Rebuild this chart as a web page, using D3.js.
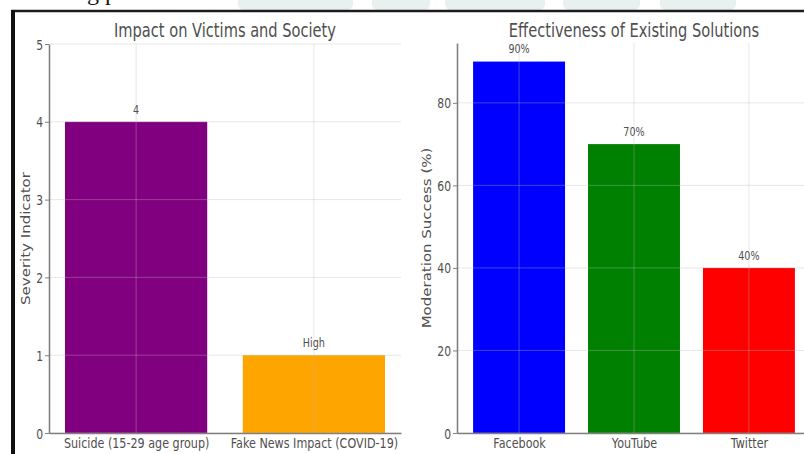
<!DOCTYPE html>
<html><head><meta charset="utf-8">
<script src="https://cdn.jsdelivr.net/npm/d3@7"></script>
<style>
body{margin:0;background:#fff}
svg{display:block}
text{font-family:"DejaVu Sans",sans-serif}
</style>
</head><body>
<svg id="c" width="804" height="454"></svg>
<script>
// ---- data ----
const leftTitle = "Impact on Victims and Society";
const leftYLabel = "Severity Indicator";
const leftCategories = ["Suicide (15-29 age group)", "Fake News Impact (COVID-19)"];
const leftValues = [4, 1];
const leftBarLabels = ["4", "High"];
const leftTicks = [0, 1, 2, 3, 4, 5];

const rightTitle = "Effectiveness of Existing Solutions";
const rightYLabel = "Moderation Success (%)";
const rightCategories = ["Facebook", "YouTube", "Twitter"];
const rightValues = [90, 70, 40];
const rightBarLabels = ["90%", "70%", "40%"];
const rightTicks = [0, 20, 40, 60, 80];

// ---- styles ----
const leftColors = ["#800080", "#FFA500"];
const rightColors = ["#0000FF", "#008000", "#FF0000"];
const SX = 0.77;           // horizontal squeeze of the screenshot
const TXT = "#4f4f4f";
const AX = "#808080";

const svg = d3.select("#c");
svg.append("rect").attr("width", 804).attr("height", 454).attr("fill", "#fff");

// faint watermark fragments above the figure frame
const wm = svg.append("g").attr("fill", "#d6e6e2").attr("opacity", 0.55);
[[238, 115], [372, 58], [445, 100], [563, 77], [660, 76]].forEach(([x, w]) => {
  wm.append("rect").attr("x", x).attr("y", -6).attr("width", w).attr("height", 16).attr("rx", 6);
});

// clipped line of page text above the figure
svg.append("text").attr("x", 75).attr("y", -0.5)
  .style("font-family", "'Liberation Serif', serif").style("font-size", "24px")
  .attr("fill", "#111").text("ng p");

function panel(o) {
  const g = svg.append("g");
  const x = d3.scaleLinear().domain(o.xDomain).range(o.xRange);
  const y = d3.scaleLinear().domain(o.yDomain).range(o.yRange);
  const bw = x(0.8) - x(0);
  const idx = o.categories.map((_, i) => i);

  // bars
  g.selectAll("rect.bar").data(o.values).enter().append("rect")
    .attr("class", "bar")
    .attr("x", (d, i) => x(i) - bw / 2)
    .attr("width", bw)
    .attr("y", d => y(d))
    .attr("height", d => y(0) - y(d))
    .attr("fill", (d, i) => o.colors[i]);

  // grid (drawn over bars, translucent)
  const grid = g.append("g").attr("stroke", "#b8b8b8").attr("stroke-opacity", 0.35).attr("stroke-width", 1);
  o.ticks.forEach(t => grid.append("line")
    .attr("x1", o.xRange[0]).attr("x2", o.xRange[1])
    .attr("y1", y(t)).attr("y2", y(t)));
  idx.forEach(i => grid.append("line")
    .attr("x1", x(i)).attr("x2", x(i))
    .attr("y1", o.yRange[1]).attr("y2", o.yRange[0]));

  // y axis
  const ya = g.append("g").attr("transform", `translate(${o.xRange[0]},0)`)
    .call(d3.axisLeft(y).tickValues(o.ticks).tickFormat(d3.format("d")).tickSize(4).tickSizeOuter(0));
  ya.select(".domain").attr("stroke", AX).attr("stroke-width", 1.6);
  ya.selectAll(".tick line").attr("stroke", AX).attr("stroke-width", 1);
  ya.selectAll(".tick text")
    .attr("x", null).attr("dy", "0.36em")
    .attr("transform", `translate(-6,0) scale(${SX},1)`)
    .attr("fill", TXT).style("font-size", "14px").style("font-family", "'DejaVu Sans',sans-serif");

  // x axis
  const xa = g.append("g").attr("transform", `translate(0,${o.yRange[0]})`)
    .call(d3.axisBottom(x).tickValues(idx).tickFormat(i => o.categories[i]).tickSize(0).tickSizeOuter(0));
  xa.select(".domain").attr("stroke", AX).attr("stroke-width", 1.6);
  xa.selectAll(".tick text")
    .attr("y", null).attr("dy", null)
    .attr("transform", `translate(0,15) scale(${SX},1)`)
    .attr("fill", TXT).style("font-size", "14.5px").style("font-family", "'DejaVu Sans',sans-serif");

  // value labels
  g.selectAll("text.val").data(o.values).enter().append("text")
    .attr("class", "val")
    .attr("text-anchor", "middle")
    .attr("transform", (d, i) => `translate(${x(i)},${y(d + o.labelOffset)}) scale(${SX},1)`)
    .attr("fill", TXT).style("font-size", "12.5px")
    .text((d, i) => o.barLabels[i]);

  // title
  g.append("text").attr("text-anchor", "middle")
    .attr("transform", `translate(${(o.xRange[0] + o.xRange[1]) / 2},37) scale(${SX},1)`)
    .attr("fill", TXT).style("font-size", "19px").text(o.title);

  // y label
  g.append("text").attr("text-anchor", "middle")
    .attr("transform", `translate(${o.yLabelX},${(o.yRange[0] + o.yRange[1]) / 2}) scale(${SX},1) rotate(-90)`)
    .attr("fill", TXT).style("font-size", "15px").text(o.yLabel);
}

panel({
  categories: leftCategories, values: leftValues, barLabels: leftBarLabels,
  colors: leftColors, ticks: leftTicks, title: leftTitle, yLabel: leftYLabel,
  xDomain: [-0.49, 1.49], xRange: [49, 401],
  yDomain: [0, 5], yRange: [433, 44],
  labelOffset: 0.1, yLabelX: 30
});

panel({
  categories: rightCategories, values: rightValues, barLabels: rightBarLabels,
  colors: rightColors, ticks: rightTicks, title: rightTitle, yLabel: rightYLabel,
  xDomain: [-0.54, 2.54], xRange: [457, 811],
  yDomain: [0, 94.5], yRange: [433, 43],
  labelOffset: 2, yLabelX: 431
});

// figure frame (screenshot border)
svg.append("line").attr("x1", 11).attr("x2", 804).attr("y1", 11).attr("y2", 11)
  .attr("stroke", "#1c1c1c").attr("stroke-width", 2.6);
svg.append("line").attr("x1", 13).attr("x2", 13).attr("y1", 10).attr("y2", 454)
  .attr("stroke", "#111").attr("stroke-width", 4);
</script>
</body></html>
